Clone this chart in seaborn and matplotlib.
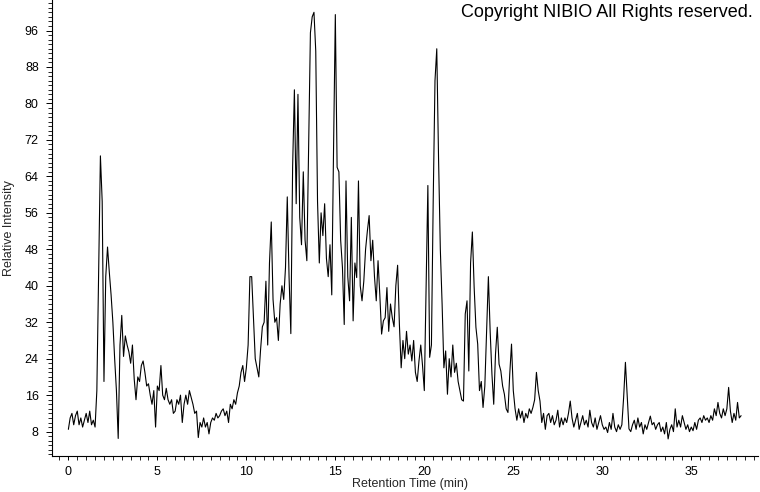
import numpy as np
import matplotlib
matplotlib.use("Agg")
import matplotlib.pyplot as plt
import seaborn as sns
from matplotlib.ticker import MultipleLocator, FixedLocator

# intensity, one row per minute (0.1 min steps)
intensity = [
    8.5, 11, 12, 9.5, 11.5, 12.5, 9.5, 11, 9, 10.5,
    12, 10, 12.5, 9.5, 10.5, 9, 17, 42, 68.5, 58.5,
    19, 42, 48.5, 43, 38, 32, 24, 17, 6.5, 27,
    33.5, 24.5, 29, 27, 25.5, 23, 27, 19.5, 15, 20,
    19, 22.5, 23.5, 21, 18, 18.5, 16, 14, 17, 9,
    18, 17, 22.5, 16, 15, 17.5, 15, 14, 15, 12,
    12.5, 15, 14, 16, 10, 14, 16, 14, 17, 15.5,
    14, 12, 12.5, 6.7, 10, 9, 11, 9, 10, 7.5,
    10, 11, 10.5, 12, 11, 11.5, 12.5, 13, 11.5, 12.5,
    10, 14, 13, 15, 14, 16.5, 18, 21, 22.5, 19,
    22, 27, 42, 42, 33, 24, 22, 20, 26, 31,
    32, 41, 27, 45, 54, 37, 32, 33, 28, 36,
    40, 37, 44, 59.5, 42, 29.5, 66, 83, 58, 82,
    55, 49, 65, 50, 45.5, 70, 95.5, 99, 100, 91.5,
    58.5, 45, 56, 51, 58, 46, 42, 49, 38, 70,
    99.5, 66, 65, 50, 44, 31.5, 63, 42, 36.7, 55,
    32.3, 45, 41.8, 63, 40, 36.7, 41, 48, 52, 55.4,
    45.5, 50, 42, 36.7, 45.5, 38, 29.4, 32.3, 33, 39.6,
    30, 36, 33, 31, 40, 44.5, 31.5, 22, 28, 24,
    30, 25, 27, 23.5, 28, 21, 19, 23.5, 27, 22.5,
    17, 40, 62, 24.3, 27, 58.7, 85, 92, 68, 48,
    36, 22, 25.7, 16.2, 24, 20, 27, 21, 23, 19,
    17, 15, 14.7, 33.8, 36.7, 21.3, 45, 51.8, 39.7, 30.9,
    27.2, 17, 19, 13.3, 18, 30, 42, 30, 20.6, 14,
    25, 30.9, 22.8, 21.3, 18, 16.2, 13, 12.2, 20.6, 27.2,
    17, 13, 10.5, 13, 11, 12.5, 10, 12, 11, 13,
    12, 13.3, 15, 21, 17, 14.7, 10, 12, 8.5, 11.5,
    12, 10, 11.5, 9.5, 10.5, 12.7, 9, 11, 9.5, 11,
    10, 12, 14.7, 11, 9, 10.5, 12, 8.5, 10, 11.5,
    9.5, 10.5, 9, 12.7, 10, 9, 11, 8.5, 10, 11.5,
    9.5, 8.5, 9, 7.8, 10, 8.5, 12, 9, 8, 9.5,
    8.5, 9.5, 15.5, 23.2, 16, 8.6, 8, 9.5, 10.5, 8.5,
    11, 9, 10, 7.5, 9.5, 8.5, 10, 11.4, 9.5, 10,
    8.5, 9.5, 10, 8, 9, 7.5, 10, 6.4, 8.5, 9.5,
    8, 13, 9, 10.5, 9, 11.5, 10, 8.5, 9.5, 8,
    9, 8.2, 10, 8.5, 10.5, 11, 10, 11.5, 10.5, 11,
    10, 11.5, 10.5, 13, 11.5, 14.4, 12, 11, 13, 11.5,
    13, 17.7, 12.5, 10, 12, 10.5, 14.4, 11, 11.5,
]
time_step = 0.1
retention_time = np.round(np.arange(len(intensity)) * time_step, 1)

x_ticks = [0, 5, 10, 15, 20, 25, 30, 35]
y_ticks = [8, 16, 24, 32, 40, 48, 56, 64, 72, 80, 88, 96]

sns.set_style("ticks")
plt.rcParams["font.family"] = ["Liberation Sans", "DejaVu Sans"]

fig = plt.figure(figsize=(7.6, 4.92), dpi=100)
ax = fig.add_axes([52 / 760, 36 / 492, 706 / 760, 456 / 492])

sns.lineplot(x=retention_time, y=intensity, ax=ax, color="black",
             linewidth=0.8, estimator=None, errorbar=None)

ax.set_xlim(-0.92, 38.75)
ax.set_ylim(2.65, 102.7)

ax.xaxis.set_major_locator(FixedLocator(x_ticks))
ax.xaxis.set_minor_locator(MultipleLocator(0.5))
ax.yaxis.set_major_locator(FixedLocator(y_ticks))
ax.yaxis.set_minor_locator(MultipleLocator(1))

ax.tick_params(axis="x", which="major", length=3.2, width=0.7, pad=4.3,
               labelsize=9, colors="black")
ax.tick_params(axis="x", which="minor", length=3.0, width=0.7)
ax.tick_params(axis="y", which="major", length=4.5, width=0.7, pad=5.0,
               labelsize=9, colors="black")
ax.tick_params(axis="y", which="minor", length=2.8, width=0.7)

sns.despine(ax=ax)
for side in ("left", "bottom"):
    ax.spines[side].set_linewidth(0.8)
    ax.spines[side].set_color("black")

ax.set_xlabel("Retention Time (min)", fontsize=9)
ax.set_ylabel("Relative Intensity", fontsize=9)
ax.xaxis.set_label_coords(0.507, -0.048)
ax.yaxis.set_label_coords(-0.053, 0.5)

fig.text(753 / 760, 1 - 4 / 492, "Copyright NIBIO All Rights reserved.",
         ha="right", va="top", fontsize=13, color="black")

fig.savefig("out.png", dpi=100)
